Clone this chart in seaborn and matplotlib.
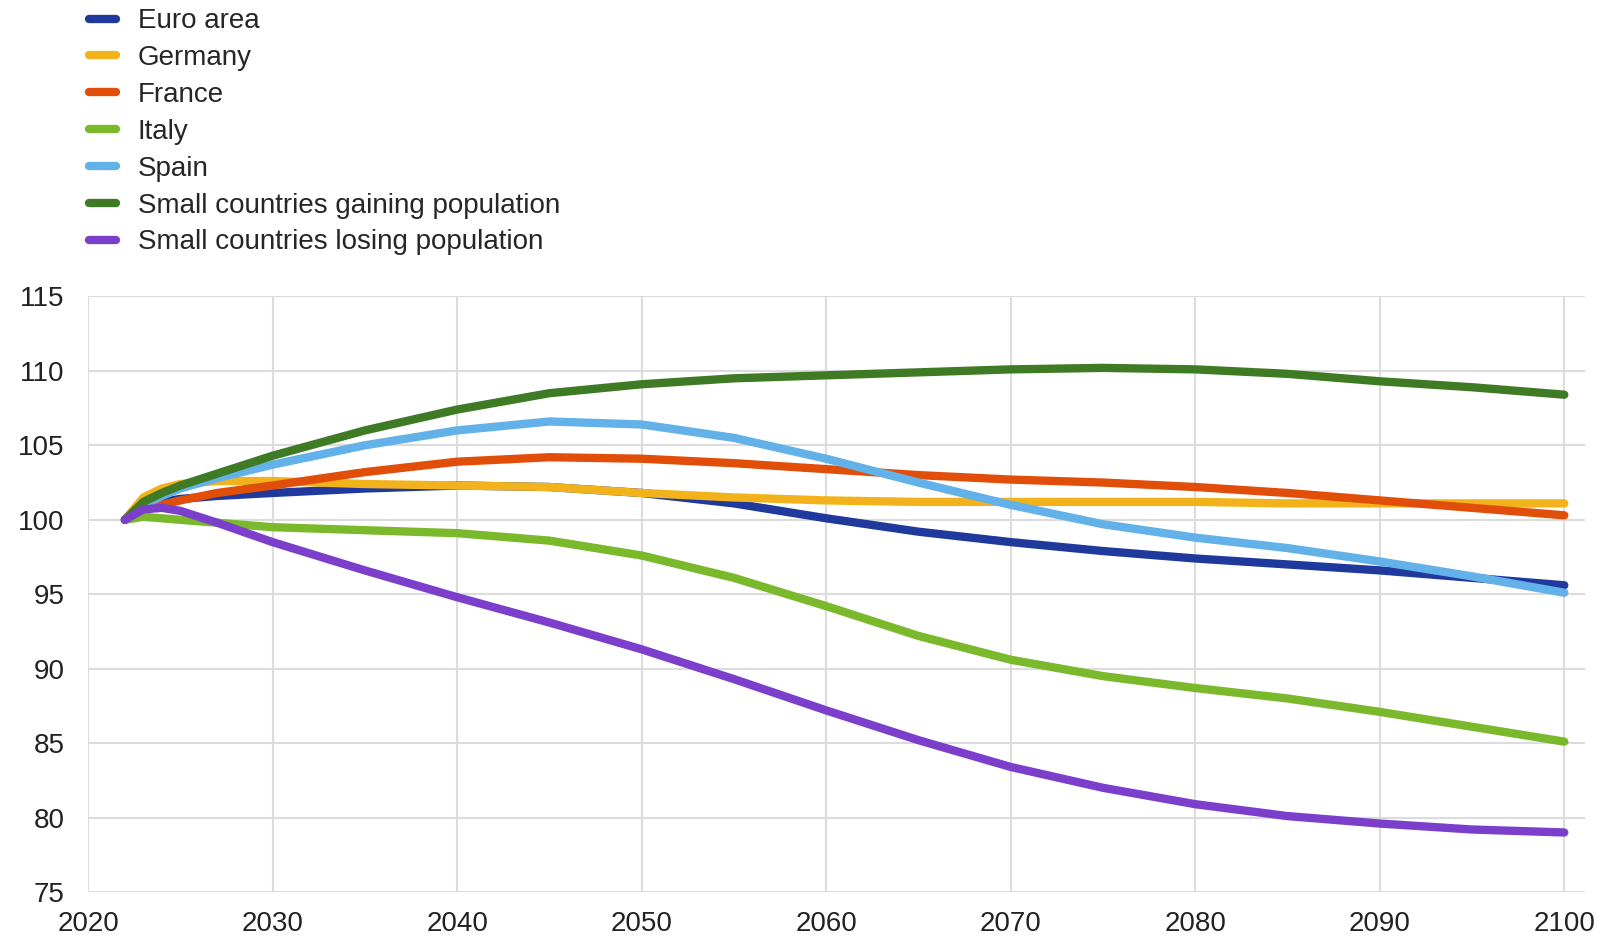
import pandas as pd
import numpy as np
import matplotlib
import matplotlib.pyplot as plt
import seaborn as sns

sns.set_style('white')
plt.rcParams['font.family'] = ['Liberation Sans', 'DejaVu Sans']

# values (index, 2022 = 100)
years = [2022, 2023, 2024, 2025, 2027, 2030, 2035, 2040, 2045, 2050, 2055, 2060,
         2065, 2070, 2075, 2080, 2085, 2090, 2095, 2100]
euro_area = [100, 100.9, 101.2, 101.4, 101.6, 101.8, 102.1, 102.3, 102.2, 101.8, 101.1, 100.1,
             99.2, 98.5, 97.9, 97.4, 97.0, 96.6, 96.1, 95.6]
germany = [100, 101.5, 102.1, 102.4, 102.6, 102.6, 102.4, 102.3, 102.2, 101.8, 101.5, 101.3,
           101.2, 101.2, 101.2, 101.2, 101.1, 101.1, 101.1, 101.1]
france = [100, 100.6, 101.0, 101.3, 101.8, 102.3, 103.2, 103.9, 104.2, 104.1, 103.8, 103.4,
          103.0, 102.7, 102.5, 102.2, 101.8, 101.3, 100.8, 100.3]
italy = [100, 100.2, 100.1, 100.0, 99.8, 99.5, 99.3, 99.1, 98.6, 97.6, 96.1, 94.2,
         92.2, 90.6, 89.5, 88.7, 88.0, 87.1, 86.1, 85.1]
spain = [100, 101.0, 101.6, 102.1, 102.8, 103.7, 105.0, 106.0, 106.6, 106.4, 105.5, 104.1,
         102.5, 101.0, 99.7, 98.8, 98.1, 97.2, 96.2, 95.1]
small_gaining = [100, 101.2, 101.8, 102.3, 103.1, 104.3, 106.0, 107.4, 108.5, 109.1, 109.5, 109.7,
                 109.9, 110.1, 110.2, 110.1, 109.8, 109.3, 108.9, 108.4]
small_losing = [100, 100.7, 100.8, 100.6, 99.8, 98.5, 96.6, 94.8, 93.1, 91.3, 89.3, 87.2,
                85.2, 83.4, 82.0, 80.9, 80.1, 79.6, 79.2, 79.0]

series_names = ['Euro area', 'Germany', 'France', 'Italy', 'Spain',
                'Small countries gaining population', 'Small countries losing population']
series_values = [euro_area, germany, france, italy, spain, small_gaining, small_losing]
colours = ['#1f3a9c', '#f2b21b', '#e04e0a', '#7ab82c', '#62b1e8', '#3f7a25', '#7b3fcc']

rows = []
for name, vals in zip(series_names, series_values):
    for y, v in zip(years, vals):
        rows.append({'year': y, 'value': v, 'series': name})
df = pd.DataFrame(rows)

fig = plt.figure(figsize=(16.12, 9.38), dpi=100)
ax = fig.add_axes([0.0546, 0.049, 0.9284, 0.635])

sns.lineplot(data=df, x='year', y='value', hue='series', hue_order=series_names,
             palette=colours, linewidth=6, ax=ax, legend=True,
             solid_capstyle='round', solid_joinstyle='round')

ax.set_xlim(2020, 2101.1)
ax.set_ylim(75, 115)
ax.set_xticks(range(2020, 2101, 10))
ax.set_yticks(range(75, 116, 5))
ax.grid(True, color='#dcdcdc', linewidth=1.5)
ax.set_axisbelow(True)
for s in ax.spines.values():
    s.set_visible(False)
ax.tick_params(axis='both', length=0, labelsize=20, labelcolor='#222222')
ax.tick_params(axis='y', pad=17)
ax.tick_params(axis='x', pad=14)
ax.set_xlabel('')
ax.set_ylabel('')

handles, labels = ax.get_legend_handles_labels()
ax.get_legend().remove()
for h in handles:
    h.set_linewidth(6)
fig.legend(handles, labels, loc='upper left', bbox_to_anchor=(0.052, 0.997),
           frameon=False, fontsize=20, handlelength=0.95, handletextpad=0.8,
           labelspacing=0.39, borderpad=0.2, borderaxespad=0)

plt.savefig('out.png', dpi=100)
